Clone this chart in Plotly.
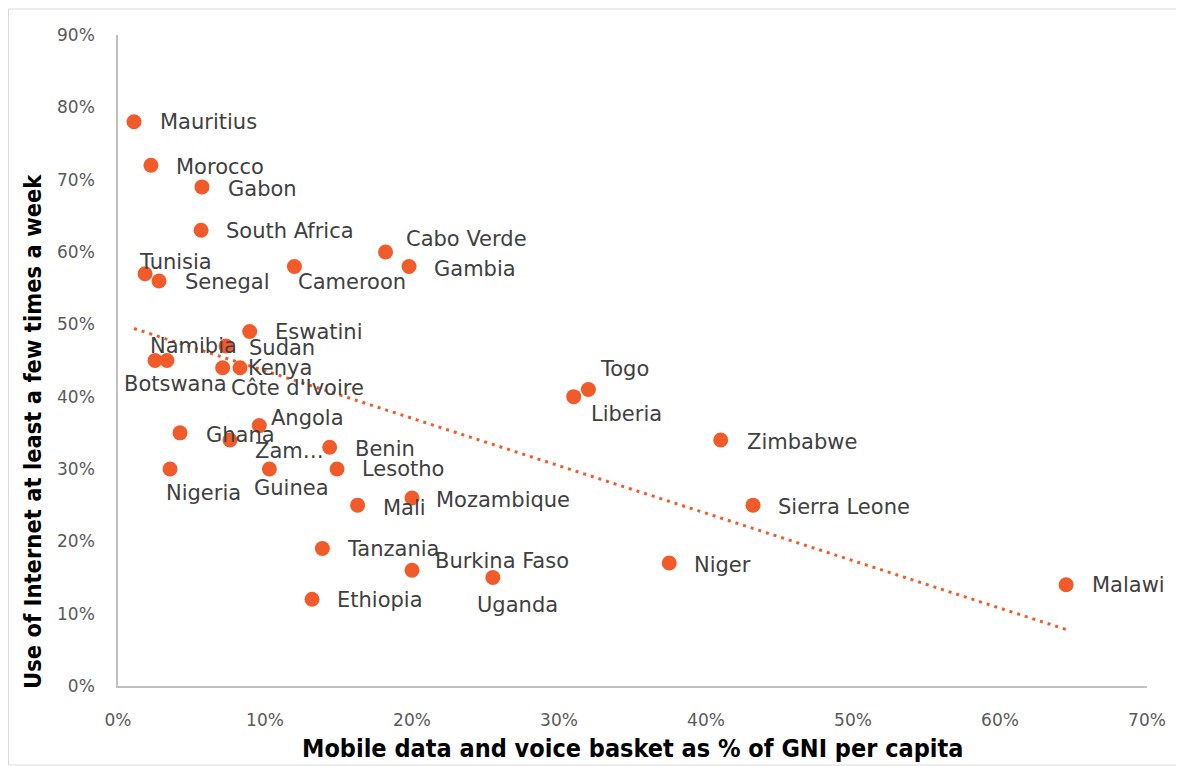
import numpy as np
import plotly.graph_objects as go

countries = ["Mauritius", "Morocco", "Gabon", "South Africa", "Tunisia", "Senegal",
             "Cameroon", "Cabo Verde", "Gambia", "Eswatini", "Namibia", "Botswana",
             "Sudan", "Kenya", "Côte d'Ivoire", "Ghana", "Zam…", "Angola", "Benin",
             "Nigeria", "Guinea", "Lesotho", "Mali", "Mozambique", "Tanzania",
             "Burkina Faso", "Uganda", "Ethiopia", "Togo", "Liberia", "Zimbabwe",
             "Sierra Leone", "Niger", "Malawi"]
basket_pct = [1.09, 2.24, 5.71, 5.65, 1.84, 2.79,
              12.0, 18.2, 19.8, 8.96, 3.33, 2.52,
              7.35, 8.30, 7.12, 4.22, 7.62, 9.61, 14.4,
              3.54, 10.3, 14.9, 16.3, 20.0, 13.9,
              20.0, 25.5, 13.2, 32.0, 31.0, 41.0,
              43.2, 37.5, 64.5]
internet_pct = [78, 72, 69, 63, 57, 56,
                58, 60, 58, 49, 45, 45,
                47, 44, 44, 35, 34, 36, 33,
                30, 30, 30, 25, 26, 19,
                16, 15, 12, 41, 40, 34,
                25, 17, 14]

# label offsets in pixels (dx right, dy down) of the label's left/middle point
label_dx = [24, 23, 24, 23, -8, 24,
            2, 18, 23, 23, -19, -33,
            21, 6, 6, 24, 23, 10, 23,
            -6, -17, 23, 23, 22, 23,
            21, -18, 23, 10, 15, 24,
            23, 23, 24]
label_dy = [0, 2, 2, 1, -12, 1,
            16, -13, 3, 0, -15, 23,
            2, 0, 20, 2, 11, -8, 2,
            24, 19, 0, 3, 2, 0,
            -9, 27, 1, -20, 17, 2,
            2, 2, 0]

x_ticks = [0, 10, 20, 30, 40, 50, 60, 70]
y_ticks = [0, 10, 20, 30, 40, 50, 60, 70, 80, 90]

x = np.array(basket_pct) / 100.0
y = np.array(internet_pct) / 100.0

ORANGE = "#f15a29"
LABEL_FONT = "DejaVu Sans, Century Gothic, sans-serif"
TITLE_FONT = "Liberation Sans Narrow, DejaVu Sans Condensed, Arial Narrow, sans-serif"

fig = go.Figure()

# linear trendline (OLS) over data range
slope, intercept = np.polyfit(x, y, 1)
tx = np.array([x.min(), x.max()])
fig.add_trace(go.Scatter(x=tx, y=slope * tx + intercept, mode="lines",
                         line=dict(color=ORANGE, width=3, dash="3px,5px"),
                         hoverinfo="skip", showlegend=False))

fig.add_trace(go.Scatter(x=x, y=y, mode="markers",
                         marker=dict(color=ORANGE, size=15, line=dict(width=0)),
                         text=countries, hoverinfo="text", showlegend=False))

for c, xi, yi, dx, dy in zip(countries, x, y, label_dx, label_dy):
    fig.add_annotation(x=xi, y=yi, text=c, showarrow=False, xanchor="left",
                       yanchor="middle", xshift=dx, yshift=-dy,
                       font=dict(family=LABEL_FONT, size=21, color="#404040"))

# the page adds an 8px body margin; figure pixel = screen pixel - 8
OFF = 8
W, H = 1184 - OFF, 766 - OFF
L, R, T, B = 118 - OFF, 37, 35 - OFF, 80
pw, ph = W - L - R, H - T - B

def px_x(p):
    return (p - OFF - L) / pw

def px_y(p):
    return (H - B - (p - OFF)) / ph

fig.add_annotation(x=px_x(632), y=px_y(748), xref="paper", yref="paper",
                   text="<b>Mobile data and voice basket as % of GNI per capita</b>",
                   showarrow=False, xanchor="center", yanchor="middle",
                   font=dict(family=TITLE_FONT, size=25, color="#000000"))
fig.add_annotation(x=px_x(33), y=px_y(432), xref="paper", yref="paper",
                   text="<b>Use of Internet at least a few times a week</b>",
                   showarrow=False, xanchor="center", yanchor="middle", textangle=-90,
                   font=dict(family=TITLE_FONT, size=23.5, color="#000000"))

fig.add_shape(type="rect", xref="paper", yref="paper",
              x0=px_x(8.5), x1=px_x(1183), y0=px_y(765), y1=px_y(9),
              line=dict(color="#d9d9d9", width=1), fillcolor="rgba(0,0,0,0)", layer="below")

fig.update_layout(
    width=W, height=H,
    margin=dict(l=L, r=R, t=T, b=B),
    paper_bgcolor="white", plot_bgcolor="white",
    showlegend=False,
    xaxis=dict(range=[0, 0.70], tickvals=[v / 100 for v in x_ticks],
               ticktext=[f"{v}%" for v in x_ticks],
               showgrid=False, zeroline=False, showline=True, linecolor="#bfbfbf",
               linewidth=1.5, ticks="", ticklabelstandoff=18,
               tickfont=dict(family=LABEL_FONT, size=17, color="#595959")),
    yaxis=dict(range=[0, 0.90], tickvals=[v / 100 for v in y_ticks],
               ticktext=[f"{v}%" for v in y_ticks],
               showgrid=False, zeroline=False, showline=True, linecolor="#bfbfbf",
               linewidth=1.5, ticks="", ticklabelstandoff=18,
               tickfont=dict(family=LABEL_FONT, size=17, color="#595959")),
)

fig.write_html("out.html")
